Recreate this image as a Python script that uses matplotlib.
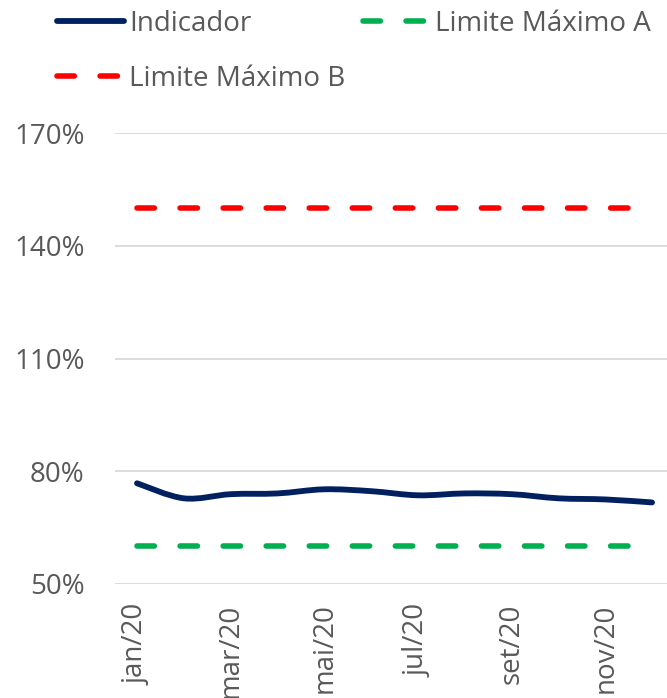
import matplotlib.pyplot as plt
import matplotlib.ticker as mticker
from matplotlib.path import Path
from matplotlib.patches import PathPatch
from matplotlib.lines import Line2D

plt.rcParams['font.family'] = ['Open Sans', 'DejaVu Sans']
plt.rcParams['lines.scale_dashes'] = False

meses = ["jan/20", "fev/20", "mar/20", "abr/20", "mai/20", "jun/20",
         "jul/20", "ago/20", "set/20", "out/20", "nov/20", "dez/20"]
indicador = [76.8, 72.8, 73.9, 74.1, 75.2, 74.7, 73.6, 74.1, 73.9, 72.8, 72.5, 71.7]
limite_a = [60] * 12
limite_b = [150] * 12

TXT = "#595959"
NAVY = "#002060"
fs = 20

fig = plt.figure(figsize=(6.67, 6.98), dpi=100)
ax = fig.add_axes([115 / 667, 114 / 698, 552 / 667, 451 / 698])

x = list(range(len(meses)))

# linha suavizada (estilo Excel) via curvas de Bezier
verts = [(x[0], indicador[0])]
codes = [Path.MOVETO]
n = len(x)
for i in range(n - 1):
    p0 = (x[max(i - 1, 0)], indicador[max(i - 1, 0)])
    p1 = (x[i], indicador[i])
    p2 = (x[i + 1], indicador[i + 1])
    p3 = (x[min(i + 2, n - 1)], indicador[min(i + 2, n - 1)])
    c1 = (p1[0] + (p2[0] - p0[0]) / 6, p1[1] + (p2[1] - p0[1]) / 6)
    c2 = (p2[0] - (p3[0] - p1[0]) / 6, p2[1] - (p3[1] - p1[1]) / 6)
    verts += [c1, c2, p2]
    codes += [Path.CURVE4] * 3
ax.add_patch(PathPatch(Path(verts, codes), fill=False, edgecolor=NAVY, lw=4.2,
                       capstyle="round", joinstyle="round", zorder=3))

l2, = ax.plot(x, limite_a, color="#00B050", lw=4.0, dashes=(12.5, 18.5),
              dash_capstyle="round", label="Limite Máximo A")
l3, = ax.plot(x, limite_b, color="#FF0000", lw=4.0, dashes=(12.5, 18.5),
              dash_capstyle="round", label="Limite Máximo B")
l1 = Line2D([], [], color=NAVY, lw=4.2, solid_capstyle="round")

ax.set_xlim(-0.47, 11.32)
ax.set_ylim(50, 170)
ax.set_yticks([50, 80, 110, 140, 170])
ax.yaxis.set_major_formatter(mticker.FuncFormatter(lambda v, p: f"{v:.0f}%"))
ax.set_xticks(x[::2])
ax.set_xticklabels(meses[::2], rotation=90)
ax.tick_params(length=0, labelsize=fs, colors=TXT)
ax.tick_params(axis="y", pad=22)
ax.tick_params(axis="x", pad=14)
ax.grid(axis="y", color="#D9D9D9", lw=1.3)
ax.set_axisbelow(True)
for s in ax.spines.values():
    s.set_visible(False)

leg_kw = dict(frameon=False, fontsize=fs, handlelength=2.4, handletextpad=0.2,
              labelcolor=TXT, borderaxespad=0, borderpad=0)
leg1 = fig.legend([l1, l2], ["Indicador", "Limite Máximo A"], ncol=2,
                  loc="center left", bbox_to_anchor=(57 / 667, 1 - 24 / 698),
                  columnspacing=4.0, **leg_kw)
leg2 = fig.legend([l3], ["Limite Máximo B"], loc="center left",
                  bbox_to_anchor=(57 / 667, 1 - 79 / 698), **leg_kw)

fig.savefig("out.png", dpi=100)
